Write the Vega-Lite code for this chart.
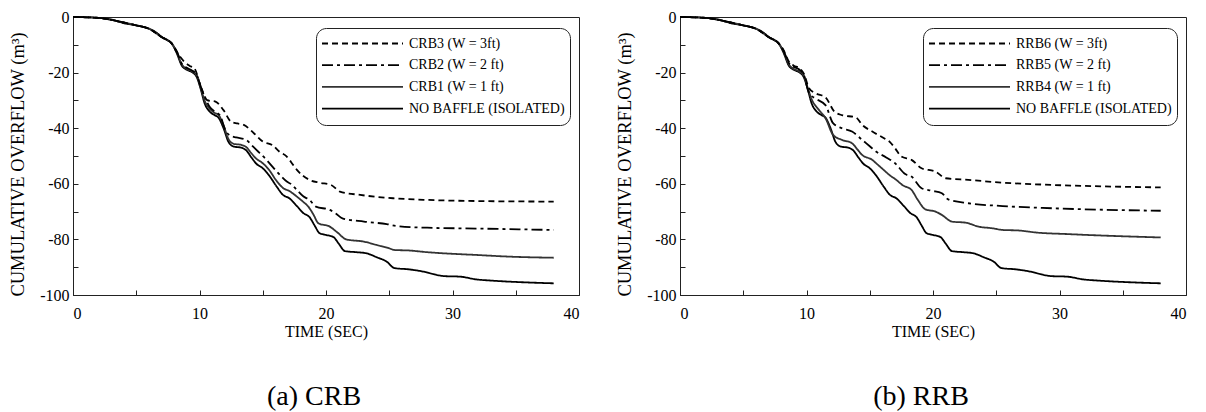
{
"$schema": "https://vega.github.io/schema/vega-lite/v6.json",
"background": "white",
"padding": {"left": 8, "top": 8, "right": 2, "bottom": 0},
"spacing": 35,
"config": {
  "font": "Liberation Serif",
  "view": {"stroke": "#222", "strokeWidth": 1},
  "axis": {"grid": false, "domainColor": "#222", "tickColor": "#222", "labelColor": "black", "titleColor": "black", "labelFont": "Liberation Serif", "titleFont": "Liberation Serif", "labelFontSize": 16, "titleFontSize": 16, "titleFontWeight": "normal", "tickSize": -5, "labelPadding": 9},
  "legend": {"symbolType": "stroke", "symbolSize": 6561, "clipHeight": 21, "rowPadding": 0.7, "labelFont": "Liberation Serif", "labelFontSize": 14, "labelColor": "black", "padding": 5, "cornerRadius": 10, "strokeColor": "#222", "fillColor": "white", "symbolOffset": 0, "labelOffset": 5, "orient": "none", "legendX": 243, "legendY": 11, "title": null},
  "title": {"font": "Liberation Serif", "fontSize": 28, "fontWeight": "normal", "color": "black"}
},
"data": {"values": [
{"p":"C","k":"d","t":0,"v":0},{"p":"C","k":"d","t":1,"v":-0.1},{"p":"C","k":"d","t":2,"v":-0.3},{"p":"C","k":"d","t":2.9,"v":-0.8},{"p":"C","k":"d","t":3.5,"v":-1.5},{"p":"C","k":"d","t":4,"v":-2.2},{"p":"C","k":"d","t":5,"v":-3.0},{"p":"C","k":"d","t":5.5,"v":-3.5},{"p":"C","k":"d","t":6,"v":-4.2},{"p":"C","k":"d","t":6.3,"v":-4.8},{"p":"C","k":"d","t":6.7,"v":-6.0},{"p":"C","k":"d","t":7,"v":-7.2},{"p":"C","k":"d","t":7.5,"v":-8.5},{"p":"C","k":"d","t":7.8,"v":-9.5},
{"p":"C","k":"d","t":8.2,"v":-13},{"p":"C","k":"d","t":8.6,"v":-17.5},{"p":"C","k":"d","t":9.0,"v":-19},{"p":"C","k":"d","t":9.4,"v":-19.8},{"p":"C","k":"d","t":9.8,"v":-21.8},{"p":"C","k":"d","t":10.1,"v":-26},{"p":"C","k":"d","t":10.4,"v":-31},{"p":"C","k":"d","t":10.8,"v":-34},{"p":"C","k":"d","t":11.2,"v":-35.3},{"p":"C","k":"d","t":11.5,"v":-36.2},{"p":"C","k":"d","t":11.9,"v":-40},{"p":"C","k":"d","t":12.3,"v":-45},{"p":"C","k":"d","t":12.7,"v":-46.6},{"p":"C","k":"d","t":13.3,"v":-47},{"p":"C","k":"d","t":13.7,"v":-48},{"p":"C","k":"d","t":14.1,"v":-50.5},{"p":"C","k":"d","t":14.5,"v":-52.8},{"p":"C","k":"d","t":15.0,"v":-54.4},{"p":"C","k":"d","t":15.5,"v":-57},{"p":"C","k":"d","t":16.1,"v":-61},{"p":"C","k":"d","t":16.6,"v":-64},{"p":"C","k":"d","t":17.1,"v":-65.2},{"p":"C","k":"d","t":17.7,"v":-68},{"p":"C","k":"d","t":18.2,"v":-70.5},{"p":"C","k":"d","t":18.7,"v":-72},{"p":"C","k":"d","t":19.1,"v":-75},{"p":"C","k":"d","t":19.5,"v":-77.8},{"p":"C","k":"d","t":20.0,"v":-78.4},{"p":"C","k":"d","t":20.6,"v":-79.2},{"p":"C","k":"d","t":21.0,"v":-81.5},{"p":"C","k":"d","t":21.5,"v":-84.2},{"p":"C","k":"d","t":22.4,"v":-84.6},{"p":"C","k":"d","t":23.2,"v":-85},{"p":"C","k":"d","t":24.0,"v":-86.4},{"p":"C","k":"d","t":24.8,"v":-88},{"p":"C","k":"d","t":25.4,"v":-90.3},{"p":"C","k":"d","t":26.6,"v":-90.8},{"p":"C","k":"d","t":27.7,"v":-91.6},{"p":"C","k":"d","t":28.5,"v":-92.5},{"p":"C","k":"d","t":29.3,"v":-93.2},{"p":"C","k":"d","t":30.6,"v":-93.4},{"p":"C","k":"d","t":31.9,"v":-94.4},{"p":"C","k":"d","t":33,"v":-94.8},{"p":"C","k":"d","t":34.5,"v":-95.2},{"p":"C","k":"d","t":36,"v":-95.5},{"p":"C","k":"d","t":38,"v":-95.8},
{"p":"C","k":"c","t":0,"v":0},{"p":"C","k":"c","t":2,"v":-0.3},{"p":"C","k":"c","t":3.5,"v":-1.5},{"p":"C","k":"c","t":5,"v":-3.0},{"p":"C","k":"c","t":6,"v":-4.2},{"p":"C","k":"c","t":7,"v":-7.2},{"p":"C","k":"c","t":7.8,"v":-9.5},
{"p":"C","k":"c","t":8.2,"v":-12.5},{"p":"C","k":"c","t":8.6,"v":-17},{"p":"C","k":"c","t":9.0,"v":-18.7},{"p":"C","k":"c","t":9.4,"v":-19.5},{"p":"C","k":"c","t":9.8,"v":-21.3},{"p":"C","k":"c","t":10.1,"v":-25.5},{"p":"C","k":"c","t":10.4,"v":-30},{"p":"C","k":"c","t":10.8,"v":-33},{"p":"C","k":"c","t":11.2,"v":-34.5},{"p":"C","k":"c","t":11.5,"v":-35.2},{"p":"C","k":"c","t":11.9,"v":-39},{"p":"C","k":"c","t":12.3,"v":-44},{"p":"C","k":"c","t":12.7,"v":-45.6},{"p":"C","k":"c","t":13.3,"v":-46},{"p":"C","k":"c","t":13.7,"v":-46.8},{"p":"C","k":"c","t":14.1,"v":-49},{"p":"C","k":"c","t":14.5,"v":-51},{"p":"C","k":"c","t":15.0,"v":-52.6},{"p":"C","k":"c","t":15.5,"v":-55},{"p":"C","k":"c","t":16.1,"v":-59},{"p":"C","k":"c","t":16.6,"v":-61.5},{"p":"C","k":"c","t":17.1,"v":-62.6},{"p":"C","k":"c","t":17.7,"v":-64.6},{"p":"C","k":"c","t":18.2,"v":-66.5},{"p":"C","k":"c","t":18.6,"v":-68.2},{"p":"C","k":"c","t":19.0,"v":-71},{"p":"C","k":"c","t":19.4,"v":-74.2},{"p":"C","k":"c","t":20.3,"v":-75.4},{"p":"C","k":"c","t":20.9,"v":-77.5},{"p":"C","k":"c","t":21.6,"v":-80},{"p":"C","k":"c","t":23,"v":-80.8},{"p":"C","k":"c","t":24.0,"v":-82},{"p":"C","k":"c","t":25.0,"v":-83.2},{"p":"C","k":"c","t":25.4,"v":-83.8},{"p":"C","k":"c","t":26.6,"v":-84},{"p":"C","k":"c","t":28,"v":-84.6},{"p":"C","k":"c","t":29.3,"v":-85},{"p":"C","k":"c","t":31.9,"v":-85.6},{"p":"C","k":"c","t":34.5,"v":-86.2},{"p":"C","k":"c","t":38,"v":-86.6},
{"p":"C","k":"b","t":0,"v":0},{"p":"C","k":"b","t":2,"v":-0.3},{"p":"C","k":"b","t":3.5,"v":-1.5},{"p":"C","k":"b","t":5,"v":-3.0},{"p":"C","k":"b","t":6,"v":-4.2},{"p":"C","k":"b","t":7,"v":-7.2},{"p":"C","k":"b","t":7.8,"v":-9.5},
{"p":"C","k":"b","t":8.2,"v":-12.3},{"p":"C","k":"b","t":8.6,"v":-16.8},{"p":"C","k":"b","t":9.0,"v":-18.3},{"p":"C","k":"b","t":9.4,"v":-19.2},{"p":"C","k":"b","t":9.8,"v":-21},{"p":"C","k":"b","t":10.1,"v":-25},{"p":"C","k":"b","t":10.4,"v":-28.5},{"p":"C","k":"b","t":10.8,"v":-32.3},{"p":"C","k":"b","t":11.2,"v":-34},{"p":"C","k":"b","t":11.6,"v":-35.3},{"p":"C","k":"b","t":12.1,"v":-41.2},{"p":"C","k":"b","t":12.5,"v":-42.8},{"p":"C","k":"b","t":12.9,"v":-43.3},{"p":"C","k":"b","t":13.7,"v":-44.2},{"p":"C","k":"b","t":14.1,"v":-46},{"p":"C","k":"b","t":14.5,"v":-47.8},{"p":"C","k":"b","t":15.3,"v":-51.4},{"p":"C","k":"b","t":15.8,"v":-54},{"p":"C","k":"b","t":16.1,"v":-55.6},{"p":"C","k":"b","t":16.5,"v":-57.5},{"p":"C","k":"b","t":16.9,"v":-59.2},{"p":"C","k":"b","t":17.2,"v":-60},{"p":"C","k":"b","t":17.7,"v":-62.2},{"p":"C","k":"b","t":18.2,"v":-64.5},{"p":"C","k":"b","t":18.7,"v":-65.8},{"p":"C","k":"b","t":19.2,"v":-68.2},{"p":"C","k":"b","t":20.3,"v":-69.4},{"p":"C","k":"b","t":20.8,"v":-70.8},{"p":"C","k":"b","t":21.3,"v":-72.4},{"p":"C","k":"b","t":23,"v":-73.6},{"p":"C","k":"b","t":24.8,"v":-74.5},{"p":"C","k":"b","t":25.6,"v":-75.2},{"p":"C","k":"b","t":28,"v":-75.8},{"p":"C","k":"b","t":31.9,"v":-76.1},{"p":"C","k":"b","t":38,"v":-76.6},
{"p":"C","k":"a","t":0,"v":0},{"p":"C","k":"a","t":2,"v":-0.3},{"p":"C","k":"a","t":3.5,"v":-1.5},{"p":"C","k":"a","t":5,"v":-3.0},{"p":"C","k":"a","t":6,"v":-4.2},{"p":"C","k":"a","t":7,"v":-7.2},{"p":"C","k":"a","t":7.8,"v":-9.5},
{"p":"C","k":"a","t":8.1,"v":-11.9},{"p":"C","k":"a","t":8.5,"v":-14.5},{"p":"C","k":"a","t":8.8,"v":-16.1},{"p":"C","k":"a","t":9.2,"v":-17.5},{"p":"C","k":"a","t":9.6,"v":-18.5},{"p":"C","k":"a","t":10.1,"v":-25},{"p":"C","k":"a","t":10.6,"v":-29.9},{"p":"C","k":"a","t":11.3,"v":-30.5},{"p":"C","k":"a","t":11.9,"v":-33.5},{"p":"C","k":"a","t":12.5,"v":-37.7},{"p":"C","k":"a","t":13.0,"v":-38.3},{"p":"C","k":"a","t":13.5,"v":-38.8},{"p":"C","k":"a","t":14.3,"v":-41.8},{"p":"C","k":"a","t":15.0,"v":-44.8},{"p":"C","k":"a","t":15.8,"v":-46.2},{"p":"C","k":"a","t":16.3,"v":-48.4},{"p":"C","k":"a","t":16.9,"v":-50.2},{"p":"C","k":"a","t":17.4,"v":-53.2},{"p":"C","k":"a","t":17.7,"v":-55},{"p":"C","k":"a","t":18.7,"v":-58.6},{"p":"C","k":"a","t":19.5,"v":-59.6},{"p":"C","k":"a","t":20.4,"v":-60.4},{"p":"C","k":"a","t":21.1,"v":-62.8},{"p":"C","k":"a","t":22.7,"v":-64},{"p":"C","k":"a","t":25.3,"v":-65.2},{"p":"C","k":"a","t":28,"v":-65.8},{"p":"C","k":"a","t":31.9,"v":-66.2},{"p":"C","k":"a","t":38,"v":-66.4},
{"p":"R","k":"d","t":0,"v":0},{"p":"R","k":"d","t":1,"v":-0.1},{"p":"R","k":"d","t":2,"v":-0.3},{"p":"R","k":"d","t":2.9,"v":-0.8},{"p":"R","k":"d","t":3.5,"v":-1.5},{"p":"R","k":"d","t":4,"v":-2.2},{"p":"R","k":"d","t":5,"v":-3.0},{"p":"R","k":"d","t":5.5,"v":-3.5},{"p":"R","k":"d","t":6,"v":-4.2},{"p":"R","k":"d","t":6.3,"v":-4.8},{"p":"R","k":"d","t":6.7,"v":-6.0},{"p":"R","k":"d","t":7,"v":-7.2},{"p":"R","k":"d","t":7.5,"v":-8.5},{"p":"R","k":"d","t":7.8,"v":-9.5},
{"p":"R","k":"d","t":8.2,"v":-13},{"p":"R","k":"d","t":8.6,"v":-17.5},{"p":"R","k":"d","t":9.0,"v":-19},{"p":"R","k":"d","t":9.4,"v":-19.8},{"p":"R","k":"d","t":9.8,"v":-21.8},{"p":"R","k":"d","t":10.1,"v":-26},{"p":"R","k":"d","t":10.4,"v":-31},{"p":"R","k":"d","t":10.8,"v":-34},{"p":"R","k":"d","t":11.2,"v":-35.3},{"p":"R","k":"d","t":11.5,"v":-36.2},{"p":"R","k":"d","t":11.9,"v":-40},{"p":"R","k":"d","t":12.3,"v":-45},{"p":"R","k":"d","t":12.7,"v":-46.6},{"p":"R","k":"d","t":13.3,"v":-47},{"p":"R","k":"d","t":13.7,"v":-48},{"p":"R","k":"d","t":14.1,"v":-50.5},{"p":"R","k":"d","t":14.5,"v":-52.8},{"p":"R","k":"d","t":15.0,"v":-54.4},{"p":"R","k":"d","t":15.5,"v":-57},{"p":"R","k":"d","t":16.1,"v":-61},{"p":"R","k":"d","t":16.6,"v":-64},{"p":"R","k":"d","t":17.1,"v":-65.2},{"p":"R","k":"d","t":17.7,"v":-68},{"p":"R","k":"d","t":18.2,"v":-70.5},{"p":"R","k":"d","t":18.7,"v":-72},{"p":"R","k":"d","t":19.1,"v":-75},{"p":"R","k":"d","t":19.5,"v":-77.8},{"p":"R","k":"d","t":20.0,"v":-78.4},{"p":"R","k":"d","t":20.6,"v":-79.2},{"p":"R","k":"d","t":21.0,"v":-81.5},{"p":"R","k":"d","t":21.5,"v":-84.2},{"p":"R","k":"d","t":22.4,"v":-84.6},{"p":"R","k":"d","t":23.2,"v":-85},{"p":"R","k":"d","t":24.0,"v":-86.4},{"p":"R","k":"d","t":24.8,"v":-88},{"p":"R","k":"d","t":25.4,"v":-90.3},{"p":"R","k":"d","t":26.6,"v":-90.8},{"p":"R","k":"d","t":27.7,"v":-91.6},{"p":"R","k":"d","t":28.5,"v":-92.5},{"p":"R","k":"d","t":29.3,"v":-93.2},{"p":"R","k":"d","t":30.6,"v":-93.4},{"p":"R","k":"d","t":31.9,"v":-94.4},{"p":"R","k":"d","t":33,"v":-94.8},{"p":"R","k":"d","t":34.5,"v":-95.2},{"p":"R","k":"d","t":36,"v":-95.5},{"p":"R","k":"d","t":38,"v":-95.8},
{"p":"R","k":"c","t":0,"v":0},{"p":"R","k":"c","t":2,"v":-0.3},{"p":"R","k":"c","t":3.5,"v":-1.5},{"p":"R","k":"c","t":5,"v":-3.0},{"p":"R","k":"c","t":6,"v":-4.2},{"p":"R","k":"c","t":7,"v":-7.2},{"p":"R","k":"c","t":7.8,"v":-9.5},
{"p":"R","k":"c","t":8.2,"v":-12.5},{"p":"R","k":"c","t":8.6,"v":-17},{"p":"R","k":"c","t":9.0,"v":-18.7},{"p":"R","k":"c","t":9.4,"v":-19.5},{"p":"R","k":"c","t":9.8,"v":-21.3},{"p":"R","k":"c","t":10.1,"v":-25.5},{"p":"R","k":"c","t":10.4,"v":-29.5},{"p":"R","k":"c","t":11.0,"v":-33.5},{"p":"R","k":"c","t":11.5,"v":-36.4},{"p":"R","k":"c","t":12.1,"v":-42.4},{"p":"R","k":"c","t":12.8,"v":-44.2},{"p":"R","k":"c","t":13.6,"v":-45.4},{"p":"R","k":"c","t":14.0,"v":-47.5},{"p":"R","k":"c","t":14.4,"v":-49.6},{"p":"R","k":"c","t":15.2,"v":-51.4},{"p":"R","k":"c","t":15.6,"v":-53},{"p":"R","k":"c","t":16.1,"v":-55},{"p":"R","k":"c","t":16.6,"v":-57},{"p":"R","k":"c","t":17.1,"v":-58.6},{"p":"R","k":"c","t":17.6,"v":-60.5},{"p":"R","k":"c","t":18.3,"v":-62.2},{"p":"R","k":"c","t":18.8,"v":-65.8},{"p":"R","k":"c","t":19.4,"v":-69.2},{"p":"R","k":"c","t":20.2,"v":-70},{"p":"R","k":"c","t":20.7,"v":-71.2},{"p":"R","k":"c","t":21.5,"v":-73.6},{"p":"R","k":"c","t":22.6,"v":-74},{"p":"R","k":"c","t":23.6,"v":-75.4},{"p":"R","k":"c","t":24.7,"v":-76},{"p":"R","k":"c","t":25.5,"v":-76.6},{"p":"R","k":"c","t":26.8,"v":-76.8},{"p":"R","k":"c","t":28.1,"v":-77.5},{"p":"R","k":"c","t":30.7,"v":-78.1},{"p":"R","k":"c","t":33.3,"v":-78.6},{"p":"R","k":"c","t":38,"v":-79.3},
{"p":"R","k":"b","t":0,"v":0},{"p":"R","k":"b","t":2,"v":-0.3},{"p":"R","k":"b","t":3.5,"v":-1.5},{"p":"R","k":"b","t":5,"v":-3.0},{"p":"R","k":"b","t":6,"v":-4.2},{"p":"R","k":"b","t":7,"v":-7.2},{"p":"R","k":"b","t":7.8,"v":-9.5},
{"p":"R","k":"b","t":8.2,"v":-12.3},{"p":"R","k":"b","t":8.6,"v":-16.5},{"p":"R","k":"b","t":9.0,"v":-18},{"p":"R","k":"b","t":9.4,"v":-18.8},{"p":"R","k":"b","t":9.8,"v":-21},{"p":"R","k":"b","t":10.2,"v":-27.4},{"p":"R","k":"b","t":10.7,"v":-29.3},{"p":"R","k":"b","t":11.5,"v":-31.7},{"p":"R","k":"b","t":12.1,"v":-38.2},{"p":"R","k":"b","t":12.8,"v":-40},{"p":"R","k":"b","t":13.6,"v":-41.2},{"p":"R","k":"b","t":14.4,"v":-44.2},{"p":"R","k":"b","t":15.0,"v":-46.5},{"p":"R","k":"b","t":15.5,"v":-48.4},{"p":"R","k":"b","t":16.3,"v":-50.5},{"p":"R","k":"b","t":17.0,"v":-52.6},{"p":"R","k":"b","t":17.8,"v":-56.5},{"p":"R","k":"b","t":18.3,"v":-57.4},{"p":"R","k":"b","t":19.1,"v":-61.6},{"p":"R","k":"b","t":19.9,"v":-62.5},{"p":"R","k":"b","t":20.7,"v":-63.4},{"p":"R","k":"b","t":21.2,"v":-65.6},{"p":"R","k":"b","t":22.8,"v":-67},{"p":"R","k":"b","t":25.5,"v":-68},{"p":"R","k":"b","t":29.4,"v":-68.8},{"p":"R","k":"b","t":38,"v":-69.7},
{"p":"R","k":"a","t":0,"v":0},{"p":"R","k":"a","t":2,"v":-0.3},{"p":"R","k":"a","t":3.5,"v":-1.5},{"p":"R","k":"a","t":5,"v":-3.0},{"p":"R","k":"a","t":6,"v":-4.2},{"p":"R","k":"a","t":7,"v":-7.2},{"p":"R","k":"a","t":7.8,"v":-9.5},
{"p":"R","k":"a","t":8.2,"v":-12},{"p":"R","k":"a","t":8.6,"v":-16},{"p":"R","k":"a","t":9.0,"v":-17.5},{"p":"R","k":"a","t":9.4,"v":-18.3},{"p":"R","k":"a","t":9.8,"v":-20.5},{"p":"R","k":"a","t":10.2,"v":-25.6},{"p":"R","k":"a","t":10.7,"v":-27.4},{"p":"R","k":"a","t":11.5,"v":-28.9},{"p":"R","k":"a","t":12.2,"v":-34},{"p":"R","k":"a","t":12.8,"v":-35.3},{"p":"R","k":"a","t":13.9,"v":-36.1},{"p":"R","k":"a","t":14.4,"v":-38.8},{"p":"R","k":"a","t":15.2,"v":-41.2},{"p":"R","k":"a","t":16.2,"v":-43.8},{"p":"R","k":"a","t":16.6,"v":-45},{"p":"R","k":"a","t":17.0,"v":-47.2},{"p":"R","k":"a","t":17.5,"v":-50.2},{"p":"R","k":"a","t":18.3,"v":-51.4},{"p":"R","k":"a","t":19.1,"v":-54.4},{"p":"R","k":"a","t":20.2,"v":-55.6},{"p":"R","k":"a","t":21.0,"v":-58},{"p":"R","k":"a","t":22.8,"v":-58.6},{"p":"R","k":"a","t":25.5,"v":-59.6},{"p":"R","k":"a","t":29.4,"v":-60.4},{"p":"R","k":"a","t":38,"v":-61.3}
]},
"hconcat": [
{
  "width": 506, "height": 278,
  "title": {"text": "(a) CRB", "orient": "bottom", "offset": 44, "dx": -12, "anchor": "middle"},
  "transform": [{"filter": "datum.p == 'C'"}],
  "mark": {"type": "line", "interpolate": "monotone"},
  "encoding": {
    "x": {"field": "t", "type": "quantitative", "scale": {"domain": [0, 40], "nice": false}, "axis": {"title": "TIME (SEC)", "values": [0,5,10,15,20,25,30,35,40], "labelExpr": "datum.value % 10 == 0 ? '' + datum.value : ''", "labelPadding": 15, "titlePadding": 2}},
    "y": {"field": "v", "type": "quantitative", "scale": {"domain": [-100, 0], "nice": false}, "axis": {"title": "CUMULATIVE OVERFLOW (m³)", "titleFontSize": 18.5, "titleY": 147, "values": [-100,-90,-80,-70,-60,-50,-40,-30,-20,-10,0], "labelExpr": "datum.value % 20 == 0 ? '' + datum.value : ''", "titlePadding": 12}},
    "color": {"field": "k", "type": "nominal", "scale": {"domain": ["a","b","c","d"], "range": ["black","black","#333","black"]}, "legend": {"labelExpr": "datum.value == 'a' ? 'CRB3 (W = 3ft)' : datum.value == 'b' ? 'CRB2 (W = 2 ft)' : datum.value == 'c' ? 'CRB1 (W = 1 ft)' : 'NO BAFFLE (ISOLATED)'"}},
    "strokeDash": {"field": "k", "type": "nominal", "scale": {"domain": ["a","b","c","d"], "range": [[6,4],[11,4,3,4],[1,0],[1,0]]}, "legend": {"labelExpr": "datum.value == 'a' ? 'CRB3 (W = 3ft)' : datum.value == 'b' ? 'CRB2 (W = 2 ft)' : datum.value == 'c' ? 'CRB1 (W = 1 ft)' : 'NO BAFFLE (ISOLATED)'"}},
    "strokeWidth": {"field": "k", "type": "nominal", "scale": {"domain": ["a","b","c","d"], "range": [1.8,1.8,1,2.2]}, "legend": {"labelExpr": "datum.value == 'a' ? 'CRB3 (W = 3ft)' : datum.value == 'b' ? 'CRB2 (W = 2 ft)' : datum.value == 'c' ? 'CRB1 (W = 1 ft)' : 'NO BAFFLE (ISOLATED)'"}}
  }
},
{
  "width": 506, "height": 278,
  "title": {"text": "(b) RRB", "orient": "bottom", "offset": 44, "dx": -12, "anchor": "middle"},
  "transform": [{"filter": "datum.p == 'R'"}],
  "mark": {"type": "line", "interpolate": "monotone"},
  "encoding": {
    "x": {"field": "t", "type": "quantitative", "scale": {"domain": [0, 40], "nice": false}, "axis": {"title": "TIME (SEC)", "values": [0,5,10,15,20,25,30,35,40], "labelExpr": "datum.value % 10 == 0 ? '' + datum.value : ''", "labelPadding": 15, "titlePadding": 2}},
    "y": {"field": "v", "type": "quantitative", "scale": {"domain": [-100, 0], "nice": false}, "axis": {"title": "CUMULATIVE OVERFLOW (m³)", "titleFontSize": 18.5, "titleY": 147, "values": [-100,-90,-80,-70,-60,-50,-40,-30,-20,-10,0], "labelExpr": "datum.value % 20 == 0 ? '' + datum.value : ''", "titlePadding": 12}},
    "color": {"field": "k", "type": "nominal", "scale": {"domain": ["a","b","c","d"], "range": ["black","black","#333","black"]}, "legend": {"labelExpr": "datum.value == 'a' ? 'RRB6 (W = 3ft)' : datum.value == 'b' ? 'RRB5 (W = 2 ft)' : datum.value == 'c' ? 'RRB4 (W = 1 ft)' : 'NO BAFFLE (ISOLATED)'"}},
    "strokeDash": {"field": "k", "type": "nominal", "scale": {"domain": ["a","b","c","d"], "range": [[6,4],[11,4,3,4],[1,0],[1,0]]}, "legend": {"labelExpr": "datum.value == 'a' ? 'RRB6 (W = 3ft)' : datum.value == 'b' ? 'RRB5 (W = 2 ft)' : datum.value == 'c' ? 'RRB4 (W = 1 ft)' : 'NO BAFFLE (ISOLATED)'"}},
    "strokeWidth": {"field": "k", "type": "nominal", "scale": {"domain": ["a","b","c","d"], "range": [1.8,1.8,1,2.2]}, "legend": {"labelExpr": "datum.value == 'a' ? 'RRB6 (W = 3ft)' : datum.value == 'b' ? 'RRB5 (W = 2 ft)' : datum.value == 'c' ? 'RRB4 (W = 1 ft)' : 'NO BAFFLE (ISOLATED)'"}}
  }
}
],
"resolve": {"scale": {"color": "independent", "strokeDash": "independent", "strokeWidth": "independent"}, "legend": {"color": "independent", "strokeDash": "independent", "strokeWidth": "independent"}}
}
